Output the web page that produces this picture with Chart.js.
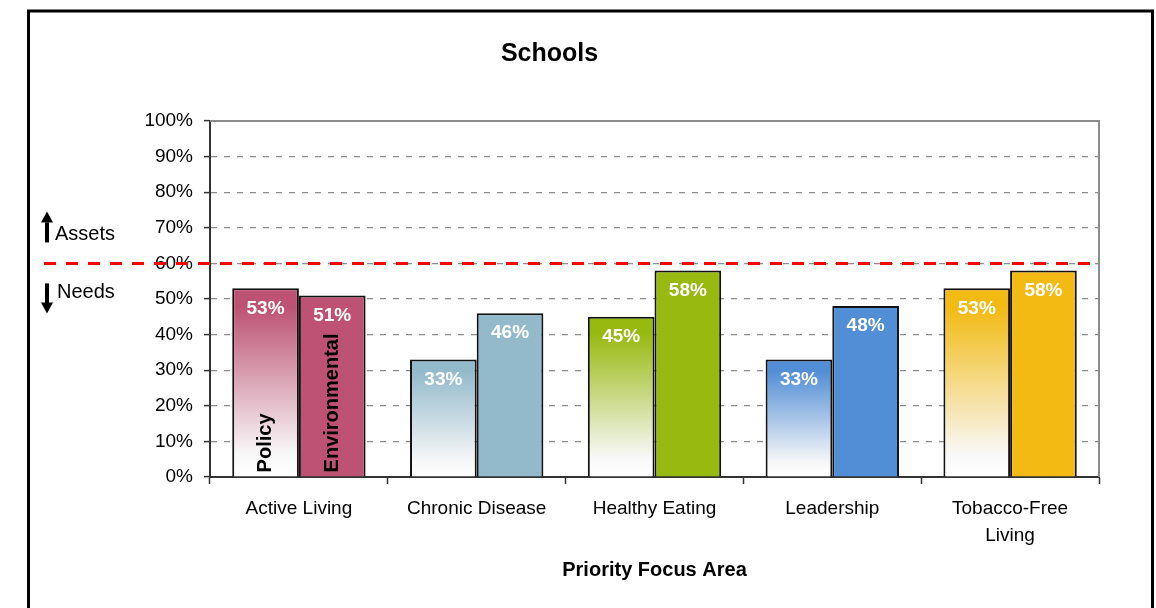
<!DOCTYPE html>
<html>
<head>
<meta charset="utf-8">
<title>Schools</title>
<script src="https://cdn.jsdelivr.net/npm/chart.js@4/dist/chart.umd.min.js"></script>
<style>
  html, body { margin:0; background:#fff; }
  #wrap { width:1156px; height:608px; position:relative; }
</style>
</head>
<body>
<div id="wrap"><canvas id="chart"></canvas></div>
<script>
/* Schools - policy vs environmental scores by priority focus area */

const CATEGORIES    = ['Active Living', 'Chronic Disease', 'Healthy Eating', 'Leadership', ['Tobacco-Free', 'Living']];
const SERIES_NAMES  = ['Policy', 'Environmental'];
const POLICY        = [53, 33, 45, 33, 53];
const ENVIRONMENTAL = [51, 46, 58, 48, 58];
const AREA_COLORS   = ['#bd5274', '#93bacb', '#98b90f', '#528ed6', '#f2ba12'];
const THRESHOLD     = 60;   // Assets above / Needs below
const Y_MIN = 0, Y_MAX = 100, Y_STEP = 10;

const FONT = "'Liberation Sans', Arial, sans-serif";
Chart.defaults.font.family = FONT;
Chart.defaults.color = '#000';

// policy bars fade from the area colour at the top to white at the base
function fadeFill(c) {
  const col = AREA_COLORS[c.dataIndex];
  const chart = c.chart;
  if (!chart.chartArea || c.type !== 'data') return col;
  const y = chart.scales.y;
  const top = y.getPixelForValue(c.raw), base = y.getPixelForValue(0);
  const g = chart.ctx.createLinearGradient(0, top, 0, base);
  g.addColorStop(0, col);
  g.addColorStop(0.1, col);
  g.addColorStop(0.88, '#f8f8f8');
  g.addColorStop(1, '#ffffff');
  return g;
}

function arrow(ctx, x, y1, y2) {
  // shaft from y1 to head at y2
  const dir = y2 > y1 ? 1 : -1, head = 11;
  ctx.fillRect(x - 2, Math.min(y1, y2 - dir * head), 4, Math.abs(y2 - y1) - head + 1);
  ctx.beginPath();
  ctx.moveTo(x - 6, y2 - dir * head);
  ctx.lineTo(x + 6, y2 - dir * head);
  ctx.lineTo(x, y2);
  ctx.closePath();
  ctx.fill();
}

const decor = {
  id: 'decor',
  beforeDraw(chart) {
    const ctx = chart.ctx;
    ctx.save();
    ctx.strokeStyle = '#000';
    ctx.lineWidth = 3;
    ctx.strokeRect(28.5, 11, 1124, 700);
    ctx.restore();
  },
  beforeDatasetsDraw(chart) {
    const {ctx, chartArea: a} = chart;
    ctx.save();
    ctx.strokeStyle = '#8c8c8c';
    ctx.lineWidth = 2;
    ctx.beginPath();
    ctx.moveTo(a.left, a.top);
    ctx.lineTo(a.right, a.top);
    ctx.lineTo(a.right, a.bottom);
    ctx.stroke();
    ctx.restore();
  },
  afterDatasetsDraw(chart) {
    const {ctx, chartArea: a} = chart;
    const y = chart.scales.y;
    ctx.save();

    // value labels
    ctx.fillStyle = '#fff';
    ctx.font = 'bold 19px ' + FONT;
    ctx.textAlign = 'center';
    ctx.textBaseline = 'middle';
    chart.data.datasets.forEach((ds, i) => {
      chart.getDatasetMeta(i).data.forEach((bar, j) => {
        ctx.fillText(ds.data[j] + '%', bar.x, bar.y + 20);
      });
    });

    // series names written up the first pair of bars
    ctx.fillStyle = '#000';
    ctx.font = 'bold 20px ' + FONT;
    ctx.textAlign = 'left';
    SERIES_NAMES.forEach((name, i) => {
      const bar = chart.getDatasetMeta(i).data[0];
      ctx.save();
      ctx.translate(bar.x, bar.base - 4);
      ctx.rotate(-Math.PI / 2);
      ctx.fillText(name, 0, 0);
      ctx.restore();
    });

    // threshold line
    const ty = y.getPixelForValue(THRESHOLD);
    ctx.strokeStyle = '#ff0000';
    ctx.lineWidth = 3;
    ctx.setLineDash([12, 10]);
    ctx.beginPath();
    ctx.moveTo(44, ty);
    ctx.lineTo(a.right - 4, ty);
    ctx.stroke();
    ctx.setLineDash([]);

    // Assets / Needs markers
    ctx.fillStyle = '#000';
    arrow(ctx, 47, ty - 22, ty - 52);
    arrow(ctx, 47, ty + 20, ty + 50);
    ctx.font = '20px ' + FONT;
    ctx.textAlign = 'left';
    ctx.fillText('Assets', 55, ty - 29);
    ctx.fillText('Needs', 57, ty + 29);
    ctx.restore();
  }
};

new Chart(document.getElementById('chart'), {
  type: 'bar',
  data: {
    labels: CATEGORIES,
    datasets: [
      { label: SERIES_NAMES[0], data: POLICY, backgroundColor: fadeFill,
        borderColor: '#111', borderWidth: 2 },
      { label: SERIES_NAMES[1], data: ENVIRONMENTAL, backgroundColor: AREA_COLORS,
        borderColor: '#111', borderWidth: 2 },
    ],
  },
  options: {
    responsive: true, maintainAspectRatio: false, animation: false,
    categoryPercentage: 0.75, barPercentage: 1.0,
    layout: { padding: { left: 0, right: 57, top: 0, bottom: 0 } },
    plugins: {
      legend: { display: false },
      tooltip: { enabled: false },
      title: { display: true, text: 'Schools', font: { size: 25, weight: 'bold' },
               padding: { top: 39, bottom: 52 }, color: '#000' },
    },
    scales: {
      x: {
        afterFit: s => { s.height = 131; },
        grid: { offset: true, drawOnChartArea: false, tickLength: 7, tickColor: '#333', tickWidth: 1.5 },
        border: { color: '#333', width: 2 },
        ticks: { font: { size: 19, lineHeight: 1.42 }, padding: 11, color: '#000', maxRotation: 0, autoSkip: false },
        title: { display: true, text: 'Priority Focus Area', font: { size: 20, weight: 'bold' },
                 padding: { top: 0, bottom: 26 }, color: '#000' },
      },
      y: {
        min: Y_MIN, max: Y_MAX,
        afterFit: s => { s.width = 210; },
        grid: { color: '#8c8c8c', lineWidth: 1.2, tickLength: 6, tickColor: '#333', tickWidth: 1.5 },
        border: { color: '#333', width: 2, dash: [6, 7] },
        ticks: { stepSize: Y_STEP, callback: v => v + '%', font: { size: 19 }, padding: 11, color: '#000' },
      },
    },
  },
  plugins: [decor],
});
</script>
</body>
</html>
